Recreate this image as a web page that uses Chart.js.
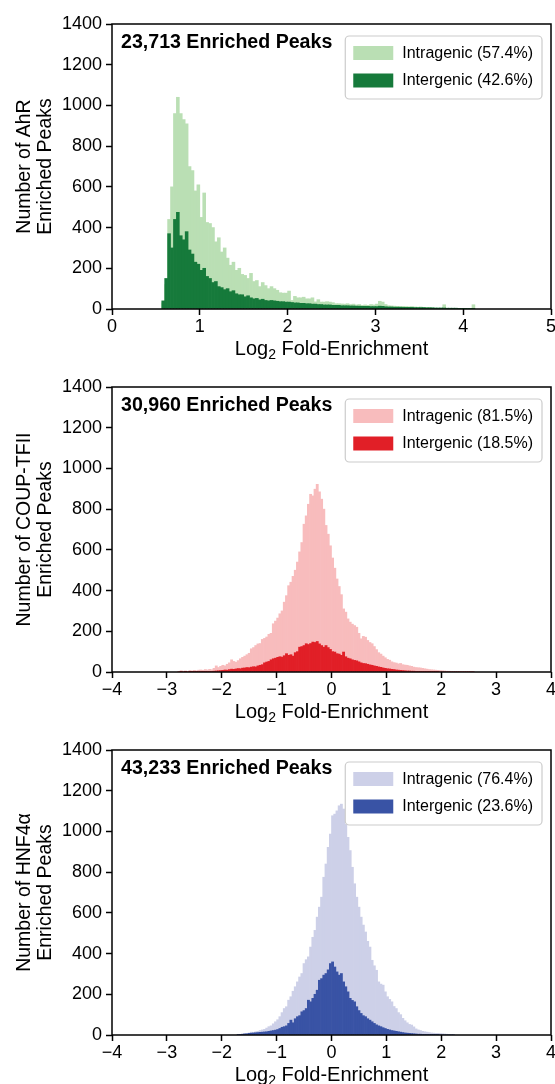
<!DOCTYPE html>
<html>
<head>
<meta charset="utf-8">
<script src="https://cdn.jsdelivr.net/npm/chart.js@4.4.1/dist/chart.umd.min.js"></script>
<style>
  html, body { margin: 0; padding: 0; background: #fff; overflow: hidden; }
  .panel { width: 555px; height: 363px; }
  canvas { display: block; }
</style>
</head>
<body>
<div class="panel"><canvas id="ahr" width="555" height="363"></canvas></div>
<div class="panel"><canvas id="coup" width="555" height="363"></canvas></div>
<div class="panel"><canvas id="hnf" width="555" height="363"></canvas></div>
<script>
// ---- data (counts per histogram bin) ----

// AhR: bins of 1/30 starting at 17/30
var ahrBinStart = 17 / 30;
var ahrBinWidth = 1 / 30;
var ahrIntragenic = [
  30,120,440,600,960,1040,960,930,910,700,680,580,610,450,570,425,420,400,330,350,
  280,300,250,215,230,190,200,170,165,150,175,135,140,110,130,115,100,
  110,100,92,80,78,78,88,42,62,55,55,58,50,50,55,35,46,34,34,36,34,31,26,26,
  25,24,26,22,24,20,22,18,20,18,22,20,24,
  38,34,22,16,15,14,13,12,13,12,11,12,10,9,10,8,7,8,5,4,3,4,21,3,2,3,2,1,2,1,0,0,21
];
var ahrIntergenic = [
  40,150,370,300,440,475,360,340,380,290,270,230,220,190,200,160,150,130,135,110,
  105,95,100,85,90,75,70,70,60,65,55,50,52,45,48,42,40,
  42,40,38,36,36,34,34,32,30,30,28,28,26,26,24,24,22,22,20,20,20,18,18,18,16,16,
  16,15,15,14,14,13,13,13,12,12,12,
  14,13,11,10,10,9,9,9,8,8,8,8,7,7,7,7,6,6,6,5,5,5,5,4,4,4,4,3,3,3,2,2,2
];

// COUP-TFII: bins of 0.04 starting at -2.80
var coupBinStart = -2.80;
var coupBinWidth = 0.04;
var coupIntragenic = [
  3,6,4,5,3,7,5,8,6,9,
  10,8,12,10,13,11,18,30,22,28,
  33,30,38,45,60,52,48,56,65,72,
  78,85,92,114,120,130,138,140,160,165,
  172,185,190,237,250,265,286,300,343,375,
  424,441,470,500,540,590,636,726,767,824,
  873,865,898,922,885,849,800,720,677,620,
  560,510,457,420,380,310,294,261,245,235,
  228,220,190,163,175,171,155,145,139,125,
  110,95,88,78,70,62,58,50,46,44,
  40,42,36,34,33,30,28,24,22,21,
  20,18,16,14,12,11,10,9,8,7,
  6,5,4,4,3,3,3,2,2,3,
  2,2,1,1,1
];
var coupIntergenic = [
  0,1,0,1,0,1,1,2,1,2,
  2,1,3,2,3,3,4,5,6,7,
  8,10,9,12,14,13,15,17,16,19,
  20,22,21,24,26,25,30,33,36,45,
  49,52,60,65,68,72,75,73,80,90,
  82,85,78,95,100,122,125,130,139,135,
  140,147,145,150,138,130,122,130,120,111,
  100,98,90,88,82,98,75,68,65,60,
  57,55,50,45,42,41,38,35,33,30,
  28,25,23,20,18,16,15,13,12,10,
  9,8,7,6,5,5,4,4,3,3,
  3,2,2,2,1,1,1,1,1,0,
  0,0,0,0,0,0,0,0,0,0,
  0,0,0,0,0
];

// HNF4a: bins of 0.04 starting at -1.72
var hnfBinStart = -1.72;
var hnfBinWidth = 0.04;
var hnfIntragenic = [
  2,3,4,8,6,10,14,12,16,18,
  22,25,28,34,41,45,55,65,75,90,
  110,130,139,171,188,215,237,261,285,302,
  351,370,384,432,480,514,579,628,677,775,
  840,922,987,1077,1085,1101,1126,1134,1110,1036,
  971,906,824,743,677,628,579,540,506,460,
  432,367,340,318,261,250,245,212,188,175,
  163,140,130,110,100,82,70,60,52,49,
  40,30,25,22,18,16,14,12,10,9,
  8,8,7,6,5,4,3,2,2
];
var hnfIntergenic = [
  2,3,4,5,6,8,9,10,11,12,
  13,14,15,16,18,20,22,24,27,32,
  38,41,45,57,73,60,80,90,95,114,
  120,130,171,163,180,200,220,269,277,294,
  302,320,351,359,334,310,294,302,261,237,
  212,180,170,163,139,120,106,95,90,80,
  73,65,57,50,45,41,36,32,28,25,
  22,20,18,16,14,12,10,9,8,7,
  6,5,4,4,3,3,2,2,1,1,
  1,1,0,0,0,0,0,0,0
];

var yTicks = [0, 200, 400, 600, 800, 1000, 1200, 1400];

// ---- drawing ----
var FONT = '"Liberation Sans", Arial, Helvetica, sans-serif';
Chart.defaults.font.family = FONT;
Chart.defaults.color = '#000';

function toPoints(counts, start, width) {
  var pts = [];
  for (var i = 0; i < counts.length; i++) {
    pts.push({ x: start + (i + 0.5) * width, y: counts[i] });
  }
  return pts;
}

function minusLabel(v) {
  return v < 0 ? '\u2212' + Math.abs(v) : String(v);
}

function roundBox(ctx, x, y, w, h, r) {
  ctx.beginPath();
  ctx.moveTo(x + r, y);
  ctx.arcTo(x + w, y, x + w, y + h, r);
  ctx.arcTo(x + w, y + h, x, y + h, r);
  ctx.arcTo(x, y + h, x, y, r);
  ctx.arcTo(x, y, x + w, y, r);
  ctx.closePath();
}

// frame, peak count, legend box and x title
var panelDecor = {
  id: 'panelDecor',
  afterDraw: function (chart) {
    var ctx = chart.ctx;
    var a = chart.chartArea;
    var note = chart.options.plugins.panelDecor.note;
    var ds = chart.data.datasets;
    ctx.save();

    ctx.strokeStyle = '#000';
    ctx.lineWidth = 1.5;
    ctx.strokeRect(a.left, a.top, a.right - a.left, a.bottom - a.top);

    ctx.fillStyle = '#000';
    ctx.textAlign = 'left';
    ctx.textBaseline = 'middle';
    ctx.font = 'bold 19.6px ' + FONT;
    ctx.fillText(note, a.left + 9, a.top + 19);

    ctx.font = '16px ' + FONT;
    var tw = Math.max(ctx.measureText(ds[0].label).width, ctx.measureText(ds[1].label).width);
    var bw = 8 + 40 + 9 + tw + 9;
    var bx = a.right - 9 - bw;
    var by = a.top + 12;
    roundBox(ctx, bx, by, bw, 63, 4);
    ctx.fillStyle = 'rgba(255,255,255,0.8)';
    ctx.fill();
    ctx.strokeStyle = '#cccccc';
    ctx.lineWidth = 1.2;
    ctx.stroke();
    for (var i = 0; i < 2; i++) {
      var cy = by + 17 + i * 27.5;
      ctx.fillStyle = ds[i].backgroundColor;
      ctx.fillRect(bx + 8, cy - 7, 40, 14);
      ctx.fillStyle = '#000';
      ctx.fillText(ds[i].label, bx + 57, cy + 0.5);
    }

    // Log2 Fold-Enrichment with subscript
    var main = '20px ' + FONT, sub = '14px ' + FONT;
    ctx.font = main;
    var w1 = ctx.measureText('Log').width;
    var w3 = ctx.measureText(' Fold-Enrichment').width;
    ctx.font = sub;
    var w2 = ctx.measureText('2').width;
    var x0 = (a.left + a.right) / 2 - (w1 + w2 + w3) / 2;
    var ty = a.bottom + 40;
    ctx.textBaseline = 'middle';
    ctx.font = main;
    ctx.fillText('Log', x0, ty);
    ctx.font = sub;
    ctx.fillText('2', x0 + w1, ty + 6);
    ctx.font = main;
    ctx.fillText(' Fold-Enrichment', x0 + w1 + w2, ty);
    ctx.restore();
  }
};

function makePanel(id, p) {
  var axisGrid = {
    display: true, drawOnChartArea: false, drawTicks: true,
    tickLength: 6, tickWidth: 1.5, tickColor: '#000', offset: false
  };
  return new Chart(document.getElementById(id), {
    type: 'bar',
    data: {
      datasets: [
        { label: p.intraLabel, data: toPoints(p.intra, p.start, p.width),
          backgroundColor: p.light, borderWidth: 0, order: 2 },
        { label: p.interLabel, data: toPoints(p.inter, p.start, p.width),
          backgroundColor: p.dark, borderWidth: 0, order: 1 }
      ]
    },
    options: {
      responsive: false,
      animation: false,
      layout: { padding: { top: 24, right: 4, bottom: 0, left: 0 } },
      datasets: { bar: { grouped: false, barPercentage: 1, categoryPercentage: 1 } },
      plugins: {
        legend: { display: false },
        tooltip: { enabled: false },
        panelDecor: { note: p.note }
      },
      scales: {
        x: {
          type: 'linear', min: p.xMin, max: p.xMax, offset: false,
          grid: axisGrid,
          border: { display: false },
          ticks: { stepSize: 1, padding: 1, autoSkip: false, maxRotation: 0,
                   font: { size: 18 }, callback: minusLabel },
          afterFit: function (s) { s.height = 54; s.paddingLeft = 0; s.paddingRight = 0; }
        },
        y: {
          min: 0, max: 1400,
          grid: axisGrid,
          border: { display: false },
          afterBuildTicks: function (s) { s.ticks = yTicks.map(function (v) { return { value: v }; }); },
          ticks: { padding: 4, font: { size: 18 }, callback: function (v) { return String(v); } },
          title: { display: true, text: p.yTitle, font: { size: 19.5, lineHeight: 1.03 },
                   padding: { top: 15, bottom: 0 } },
          afterFit: function (s) { s.width = 112; }
        }
      }
    },
    plugins: [panelDecor]
  });
}

makePanel('ahr', {
  intra: ahrIntragenic, inter: ahrIntergenic, start: ahrBinStart, width: ahrBinWidth,
  xMin: 0, xMax: 5,
  intraLabel: 'Intragenic (57.4%)', interLabel: 'Intergenic (42.6%)',
  note: '23,713 Enriched Peaks',
  yTitle: ['Number of AhR', 'Enriched Peaks'],
  light: '#badfb4', dark: '#167a3b'
});

makePanel('coup', {
  intra: coupIntragenic, inter: coupIntergenic, start: coupBinStart, width: coupBinWidth,
  xMin: -4, xMax: 4,
  intraLabel: 'Intragenic (81.5%)', interLabel: 'Intergenic (18.5%)',
  note: '30,960 Enriched Peaks',
  yTitle: ['Number of COUP-TFII', 'Enriched Peaks'],
  light: '#f8bcbd', dark: '#e11f27'
});

makePanel('hnf', {
  intra: hnfIntragenic, inter: hnfIntergenic, start: hnfBinStart, width: hnfBinWidth,
  xMin: -4, xMax: 4,
  intraLabel: 'Intragenic (76.4%)', interLabel: 'Intergenic (23.6%)',
  note: '43,233 Enriched Peaks',
  yTitle: ['Number of HNF4\u03b1', 'Enriched Peaks'],
  light: '#cdd0e8', dark: '#3953a5'
});
</script>
</body>
</html>
